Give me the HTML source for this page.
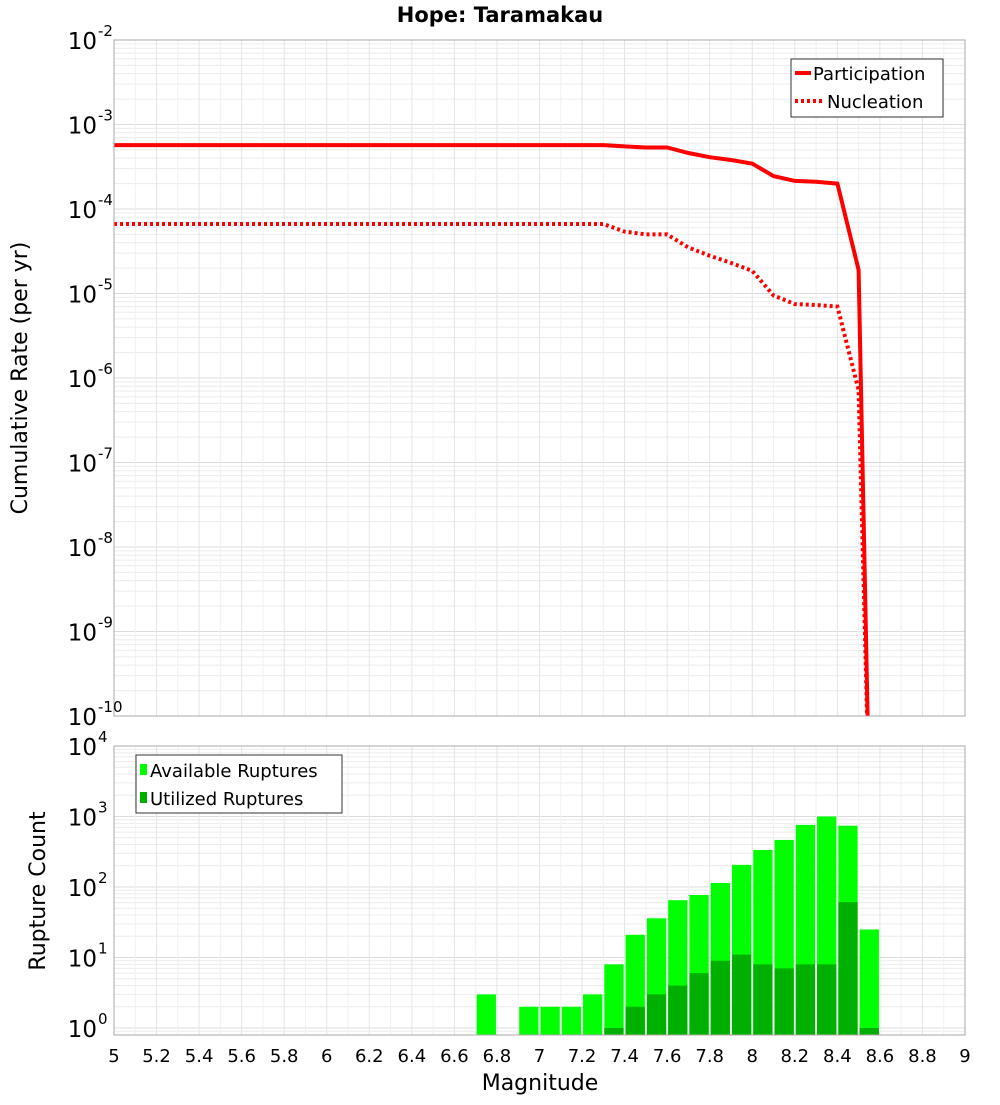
<!DOCTYPE html>
<html><head><meta charset="utf-8"><style>
body{margin:0;background:#fff;}
svg text{font-family:"DejaVu Sans","Liberation Sans",sans-serif;}
</style></head><body>
<svg id="c" width="1000" height="1100" xmlns="http://www.w3.org/2000/svg"></svg>
<script>
const mags = [5,5.1,5.2,5.3,5.4,5.5,5.6,5.7,5.8,5.9,6,6.1,6.2,6.3,6.4,6.5,6.6,6.7,6.8,6.9,7,7.1,7.2,7.3,7.4,7.5,7.6,7.7,7.8,7.9,8,8.1,8.2,8.3,8.4,8.5,8.55];
const partRates = [5.7e-4,5.7e-4,5.7e-4,5.7e-4,5.7e-4,5.7e-4,5.7e-4,5.7e-4,5.7e-4,5.7e-4,5.7e-4,5.7e-4,5.7e-4,5.7e-4,5.7e-4,5.7e-4,5.7e-4,5.7e-4,5.7e-4,5.7e-4,5.7e-4,5.7e-4,5.7e-4,5.7e-4,5.5e-4,5.35e-4,5.35e-4,4.6e-4,4.1e-4,3.8e-4,3.45e-4,2.45e-4,2.15e-4,2.1e-4,2.0e-4,1.9e-5,1e-11];
const nuclRates = [6.65e-5,6.65e-5,6.65e-5,6.65e-5,6.65e-5,6.65e-5,6.65e-5,6.65e-5,6.65e-5,6.65e-5,6.65e-5,6.65e-5,6.65e-5,6.65e-5,6.65e-5,6.65e-5,6.65e-5,6.65e-5,6.65e-5,6.65e-5,6.65e-5,6.65e-5,6.65e-5,6.65e-5,5.4e-5,5.0e-5,5.0e-5,3.5e-5,2.8e-5,2.3e-5,1.85e-5,9.5e-6,7.5e-6,7.3e-6,7.0e-6,7.2e-7,1e-11];
const binCenters = [6.75,6.95,7.05,7.15,7.25,7.35,7.45,7.55,7.65,7.75,7.85,7.95,8.05,8.15,8.25,8.35,8.45,8.55];
const availCounts = [3,2,2,2,3,8,21,36,65,77,114,206,335,465,760,1000,740,25];
const usedCounts  = [0,0,0,0,0,1,2,3,4,6,9,11,8,7,8,8,61,1];
const xTicks = ["5","5.2","5.4","5.6","5.8","6","6.2","6.4","6.6","6.8","7","7.2","7.4","7.6","7.8","8","8.2","8.4","8.6","8.8","9"];
const topExps = [-2,-3,-4,-5,-6,-7,-8,-9,-10];
const botExps = [0,1,2,3,4];

const NS="http://www.w3.org/2000/svg", svg=document.getElementById('c');
function el(tag,attrs,parent,txt){const e=document.createElementNS(NS,tag);for(const k in attrs)e.setAttribute(k,attrs[k]);if(txt!==undefined)e.textContent=txt;(parent||svg).appendChild(e);return e;}
const X0=114,X1=965;
const xs=m=>X0+(m-5)/4*(X1-X0);
const T0=40,T1=716; const yt=v=>T0+(-2-Math.log10(v))*(T1-T0)/8;
const B0=746,B1=1035,BD=70.5; const yb=v=>1028-Math.log10(v)*BD;

const t=el('text',{x:500,y:22,'text-anchor':'middle','font-size':21,'font-weight':'bold'},svg,'Hope: Taramakau');


function grid(y0,y1,ydec,expLo,expHi,name){
  const g=el('g',{});
  
  for(let e=expLo;e<expHi;e++)for(let k=1;k<10;k++){const y=ydec(k*Math.pow(10,e));if(y>=y0&&y<=y1)el('line',{x1:X0,x2:X1,y1:y,y2:y,stroke:k==1?'#dcdcdc':'#ececec','stroke-width':1},g);}
  for(let i=0;i<xTicks.length;i++){const x=xs(5+i*0.2);el('line',{x1:x,x2:x,y1:y0,y2:y1,stroke:'#e4e4e4'},g);}
  for(let i=0;i<40;i++){const x=xs(5+i*0.1+0.1);if(i%2==0)el('line',{x1:x,x2:x,y1:y0,y2:y1,stroke:'#f0f0f0'},g);}
}
grid(T0,T1,yt,-10,-2,'top-grid');
grid(B0,B1,yb,-1,4,'bottom-grid');

const clip=el('clipPath',{id:'tc'});el('rect',{x:X0,y:T0,width:X1-X0,height:T1-T0},clip);
function line(vals,dash,name){
  const d=mags.map((m,i)=>(i?'L':'M')+xs(m).toFixed(1)+','+yt(vals[i]).toFixed(1)).join('');
  const p=el('path',{d:d,fill:'none',stroke:'#ff0000','stroke-width':4,'clip-path':'url(#tc)'});
  if(dash)p.setAttribute('stroke-dasharray',dash);
  
}
line(nuclRates,'3,3','nucleation-line');
line(partRates,null,'participation-line');
el('rect',{x:X0,y:T0,width:X1-X0,height:T1-T0,fill:'none',stroke:'#aaa'});

topExps.forEach(e=>{const y=yt(Math.pow(10,e));
  const tx=el('text',{x:97,y:y+9,'text-anchor':'end','font-size':23},svg,'10');
  
  el('text',{x:98,y:y-4,'font-size':15},svg,String(e));});
const yl=el('text',{x:27,y:378,'text-anchor':'middle','font-size':22,transform:'rotate(-90 27 378)'},svg,'Cumulative Rate (per yr)');


const lg=el('g',{});
el('rect',{x:791,y:59,width:152,height:58,fill:'#fff',stroke:'#333'},lg);
el('line',{x1:795,x2:811,y1:73,y2:73,stroke:'#f00','stroke-width':4},lg);
el('text',{x:813,y:80,'font-size':18},lg,'Participation');
el('line',{x1:795,x2:823,y1:101,y2:101,stroke:'#f00','stroke-width':4,'stroke-dasharray':'3,3'},lg);
el('text',{x:827,y:108,'font-size':18},lg,'Nucleation');

const bw=xs(5.1)-xs(5)-2;
binCenters.forEach((m,i)=>{
  const x=xs(m)-bw/2;
  const r=el('rect',{x:x,y:yb(availCounts[i]),width:bw,height:B1-yb(availCounts[i]),fill:'#00ff00'});
  
  if(usedCounts[i]>0){const u=el('rect',{x:x,y:yb(usedCounts[i]),width:bw,height:B1-yb(usedCounts[i]),fill:'#00b000'});
    }
});
el('rect',{x:X0,y:B0,width:X1-X0,height:B1-B0,fill:'none',stroke:'#aaa'});
botExps.forEach(e=>{const y=yb(Math.pow(10,e));
  const tx=el('text',{x:97,y:y+9,'text-anchor':'end','font-size':23},svg,'10');
  
  el('text',{x:98,y:y-4,'font-size':15},svg,String(e));});
const yl2=el('text',{x:45,y:891,'text-anchor':'middle','font-size':22,transform:'rotate(-90 45 891)'},svg,'Rupture Count');


const lg2=el('g',{});
el('rect',{x:136,y:755,width:206,height:58,fill:'#fff',stroke:'#333'},lg2);
el('rect',{x:140,y:764,width:7,height:11,fill:'#00ff00'},lg2);
el('text',{x:150,y:777,'font-size':18},lg2,'Available Ruptures');
el('rect',{x:140,y:792,width:7,height:11,fill:'#00b000'},lg2);
el('text',{x:150,y:805,'font-size':18},lg2,'Utilized Ruptures');

xTicks.forEach((s,i)=>{const tx=el('text',{x:xs(5+i*0.2),y:1062,'text-anchor':'middle','font-size':18},svg,s);
  });
const xl=el('text',{x:540,y:1090,'text-anchor':'middle','font-size':22},svg,'Magnitude');

</script>
</body></html>
